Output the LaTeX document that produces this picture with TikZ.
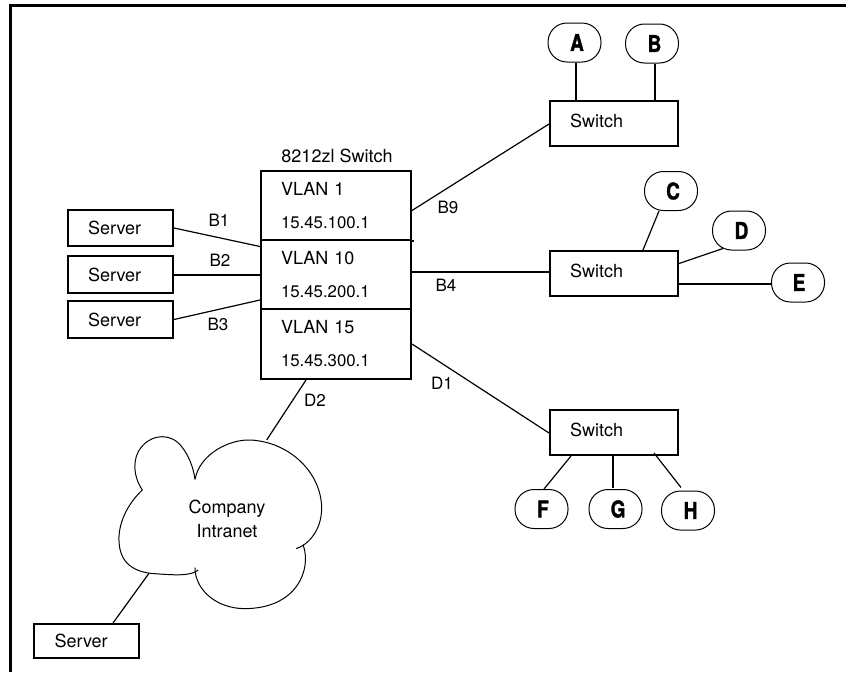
\documentclass[tikz,border=0pt]{standalone}
\usepackage{fontspec}
\setmainfont{TeX Gyre Heros}
\newfontfamily\pillfont[FakeStretch=0.82,FakeBold=1.5]{TeX Gyre Heros Bold}
\newcommand\boxtext[3]{\hspace*{#1pt}\raisebox{#2pt}{#3}}
\newcommand\ipaddr[1]{{\fontsize{16.8}{35}\selectfont #1}}
\tikzset{
  x=1pt,y=-1pt,
  txt/.style={font=\fontsize{18}{24}\selectfont,inner sep=0pt},
  porttxt/.style={font=\fontsize{17}{24}\selectfont,inner sep=0pt},
  boxed/.style={draw=black,line width=2pt,inner sep=0pt,align=left,font=\fontsize{18}{35}\selectfont,anchor=center},
  serverbox/.style={boxed,text width=105pt,minimum height=36pt},
  switchbox/.style={boxed,text width=128pt,minimum height=45pt},
  vlanbox/.style={boxed,text width=150pt},
  pill/.style={draw=black,line width=1pt,rounded corners=19pt,minimum width=53pt,minimum height=39pt,inner sep=0pt,font=\pillfont\fontsize{23}{24}\selectfont},
  thinline/.style={draw=black,line width=1.2pt},
  thickline/.style={draw=black,line width=2pt},
  frameline/.style={draw=black,line width=3.4pt},
  cloudline/.style={draw=black,line width=1pt},
}
\begin{document}
\begin{tikzpicture}
\useasboundingbox (0,0) rectangle (846,672);
\draw[frameline] (10.5,672) -- (10.5,5.5) -- (846,5.5);

% VLAN block
\node[vlanbox,minimum height=69pt] (v1) at (336,205.5) {\boxtext{20}{-2}{VLAN 1}\\\boxtext{20}{0}{\ipaddr{15.45.100.1}}};
\node[vlanbox,minimum height=69pt] (v10) at (336,274.5) {\boxtext{20}{-2}{VLAN 10}\\\boxtext{20}{0}{\ipaddr{15.45.200.1}}};
\node[vlanbox,minimum height=70pt] (v15) at (336,344) {\boxtext{20}{-2}{VLAN 15}\\\boxtext{20}{0}{\ipaddr{15.45.300.1}}};
\draw[thickline] (v1.south east) -- ++(2,0);
\node[txt] (title) at (337,156) {8212zl Switch};

% Servers
\node[serverbox] (s1) at (120.5,228) {\boxtext{20}{0}{Server}};
\node[serverbox,minimum height=37pt] (s2) at (120.5,274.5) {\boxtext{20}{0}{Server}};
\node[serverbox,minimum height=37pt] (s3) at (120.5,319.5) {\boxtext{20}{0}{Server}};
\node[serverbox,minimum height=34pt] (s4) at (86,641) {\boxtext{21}{0}{Server}};

% Switches
\node[switchbox] (sw1) at (614,123.5) {\boxtext{20}{5}{Switch}};
\node[switchbox] (sw2) at (614,273.5) {\boxtext{20}{6}{Switch}};
\node[switchbox] (sw3) at (614,432.5) {\boxtext{20}{6}{Switch}};

% End stations
\node[pill] (A) at (574.5,42.5) {\hspace*{5pt}A};
\node[pill] (B) at (652,43.5) {\hspace*{5pt}B};
\node[pill] (C) at (671,191) {\hspace*{4pt}C};
\node[pill] (D) at (739,230.5) {\hspace*{5pt}D};
\node[pill] (E) at (798,282.5) {\hspace*{2pt}E};
\node[pill] (F) at (541.5,509) {\hspace*{3pt}F};
\node[pill] (G) at (615.5,509) {\hspace*{5pt}G};
\node[pill] (H) at (688,510.5) {\hspace*{5pt}H};

% Cloud
\begin{scope}[shift={(100,390)},x=0.3333pt,y=-0.3333pt]
\draw[cloudline] (285,268) .. controls (300,190) and (390,148) .. (450,150) .. controls (570,155) and (665,250) .. (665,355) .. controls (665,420) and (625,465) .. (588,476);
\draw[cloudline] (610,466) .. controls (635,540) and (590,655) .. (435,656) .. controls (350,656) and (285,600) .. (285,533);
\draw[cloudline] (295,540) .. controls (270,560) and (220,555) .. (150,550) .. controls (80,540) and (55,500) .. (57,440) .. controls (60,380) and (95,330) .. (127,300);
\draw[cloudline] (127,300) .. controls (100,260) and (95,205) .. (125,170) .. controls (160,130) and (215,130) .. (245,170) .. controls (265,195) and (280,230) .. (285,268);
\coordinate (cloudtop) at (500,150);
\coordinate (cloudbot) at (147,550);
\end{scope}
\node[txt,align=center] (cloud) at (227,519) {Company\\Intranet};

% Connectors
\draw[thinline] (s1.east) -- ([yshift=28pt]v10.west);
\draw[thickline] (s2.east) -- (v10.west);
\draw[thinline] (s3.east) -- ([yshift=-25.5pt]v10.west);
\draw[thinline] ([yshift=-5pt]v1.east) -- ([yshift=-0.5pt]sw1.west);
\draw[thickline] ([yshift=2.5pt]v10.east) -- ([yshift=1.5pt]sw2.west);
\draw[thinline] (v15.east) -- ([yshift=-0.5pt]sw3.west);
\draw[thinline] ([xshift=-30pt]v15.south) -- (cloudtop);
\draw[thinline] (cloudbot) -- ([xshift=27pt]s4.north);
\draw[thickline] ([xshift=1.5pt]A.south) -- ([xshift=-38pt]sw1.north);
\draw[thickline] ([xshift=3pt]B.south) -- ([xshift=41pt]sw1.north);
\draw[thinline] ([xshift=-12pt]C.south) -- ([xshift=29pt]sw2.north);
\draw[thinline] ([xshift=-16pt,yshift=2pt]D.south) -- ([yshift=10pt]sw2.east);
\draw[thickline] ([yshift=-1.5pt]E.west) -- ([yshift=-10.5pt]sw2.east);
\draw[thinline] ([xshift=-43pt]sw3.south) -- ([xshift=2.5pt]F.north);
\draw[thickline] ([xshift=-1pt]sw3.south) -- ([xshift=-2.5pt,yshift=1.5pt]G.north);
\draw[thinline] ([xshift=40pt,yshift=3pt]sw3.south) -- ([xshift=-7pt,yshift=3pt]H.north);

% Port labels
\node[porttxt] (lb1) at (219,220) {B1};
\node[porttxt] (lb2) at (220,260) {B2};
\node[porttxt] (lb3) at (218,324) {B3};
\node[porttxt] (lb9) at (448,207) {B9};
\node[porttxt] (lb4) at (446,285) {B4};
\node[porttxt] (ld1) at (442,383) {D1};
\node[porttxt] (ld2) at (315,400) {D2};
\end{tikzpicture}
\end{document}
